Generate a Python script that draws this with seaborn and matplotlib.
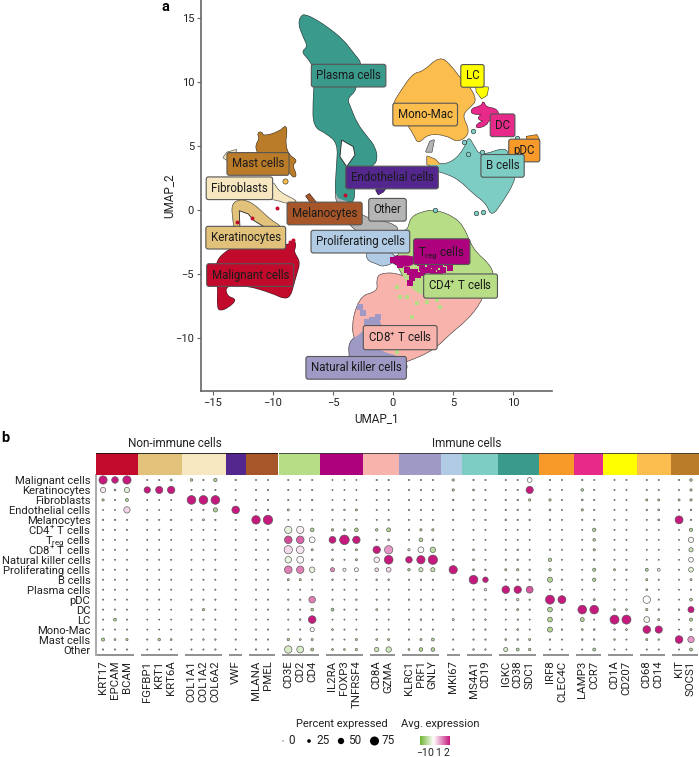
import matplotlib
matplotlib.use("Agg")
import matplotlib.pyplot as plt
import numpy as np
import pandas as pd
import seaborn as sns
from matplotlib.colors import LinearSegmentedColormap, TwoSlopeNorm
from matplotlib.patches import PathPatch
from matplotlib.path import Path

FIG_W, FIG_H = 699, 757

# cluster colours
colors = {
    "Malignant cells": "#c20a2c", "Keratinocytes": "#e2c27b", "Fibroblasts": "#f6e7c1",
    "Endothelial cells": "#54278f", "Melanocytes": "#a65628", "CD4 T cells": "#b7dd87",
    "Treg cells": "#ae017e", "CD8 T cells": "#f7b3ac", "Natural killer cells": "#9f9ac5",
    "Proliferating cells": "#b0cbe3", "B cells": "#7ecdc4", "Plasma cells": "#3a9a8c",
    "pDC": "#f79a2a", "DC": "#e7298a", "LC": "#ffff00", "Mono-Mac": "#fbbd4d",
    "Mast cells": "#bb7c2a", "Other": "#b5b5b5",
}

# UMAP cluster outlines (UMAP_1, UMAP_2)
other_shape = [(-4.83, 1.56), (-4.14, 1.43), (-3.86, 0.52), (-2.75, 0.26), (-2.75, -0.52), (0.03, -1.04), (0.58, -1.69),
               (-1.08, -1.82), (-2.75, -1.69), (-3.31, -1.43), (-3.86, -0.78), (-4.69, 0.52)]
plasma_shape = [(-7.89, 14.58), (-7.6, 15.25), (-7.2, 15.2), (-6.64, 14.97), (-5.53, 14.32), (-4.14, 13.28), (-3.31, 12.24),
                (-2.61, 11.46), (-3.03, 10.94), (-3.03, 9.37), (-3.86, 8.72), (-3.58, 8.07), (-3.03, 6.77), (-2.19, 5.73),
                (-1.5, 4.95), (-1.3, 3.91), (-1.78, 3.39), (-2.75, 3.0), (-3.3, 2.6), (-3.17, 0.52), (-4.14, 0.78),
                (-4.83, 1.04), (-4.69, 3.39), (-4.56, 5.21), (-5.53, 6.0), (-6.64, 6.51), (-6.64, 8.59), (-6.5, 10.42),
                (-6.64, 11.2), (-7.06, 11.85), (-7.61, 12.37), (-7.06, 12.76), (-7.47, 13.54)]
plasma_hole = [(-4.28, 5.47), (-3.31, 4.95), (-3.17, 4.3), (-3.86, 3.39), (-4.42, 4.17)]
mast_shape = [(-11.31, 5.99), (-10.94, 6.12), (-10.81, 5.73), (-9.42, 6.12), (-8.92, 6.64), (-8.86, 5.99), (-9.0, 5.21),
              (-8.72, 4.30), (-7.97, 3.86), (-8.44, 3.52), (-8.03, 2.73), (-8.31, 2.53), (-8.72, 3.12), (-9.42, 2.86),
              (-9.83, 3.12), (-11.08, 4.17), (-11.5, 4.95), (-11.08, 5.6)]
fibro_shape = [(-9.97, 2.21), (-9.56, 1.43), (-8.17, 0.78), (-8.08, 0.65), (-8.86, 0.52), (-9.56, 0.78), (-10.5, 0.9), (-10.5, 2.0)]
fibro_bit = [(-14.14, 4.1), (-13.8, 4.5), (-13.03, 4.7), (-13.3, 4.3), (-13.8, 3.9)]
kerat_shape = [(-13.44, 0.39), (-12.89, 0.78), (-12.19, 0.73), (-11.36, 0.26), (-10.25, -0.78), (-9.28, -1.3),
               (-9.28, -1.95), (-13.17, -1.95), (-13.31, -0.78)]
kerat_hole = [(-12.81, -0.05), (-12.06, -0.31), (-11.58, -0.83), (-10.67, -1.35), (-12.75, -1.51)]
malig_shape = [(-14.69, -4.04), (-14.14, -3.39), (-13.17, -2.86), (-8.86, -2.86), (-8.22, -2.34), (-8.11, -2.86),
               (-8.31, -3.26), (-7.75, -4.04), (-8.03, -4.95), (-8.31, -5.86), (-8.58, -6.77), (-9.14, -6.9), (-9.97, -6.51),
               (-12.19, -5.86), (-14.0, -5.86), (-13.86, -6.77), (-13.03, -6.98), (-13.72, -7.6), (-14.42, -7.86),
               (-14.64, -7.55), (-14.56, -5.86), (-14.83, -4.95)]
melano_shape = [(-7.25, 1.09), (-6.97, 1.25), (-6.31, 0.47), (-6.64, 0.31)]
prolif_shape = [(-2.19, -3.0), (-0.39, -3.13), (0.44, -3.91), (-0.81, -4.43), (-1.36, -4.17), (-2.19, -3.91)]
prolif_top = [(0.72, -1.83), (1.42, -1.3), (1.83, -2.6), (1.0, -2.87)]
nk_shape = [(-3.72, -10.29), (-2.61, -9.64), (-1.64, -8.59), (-1.08, -8.59), (-0.8, -9.6), (-1.64, -10.9), (1.14, -11.59),
            (1.14, -12.9), (-3.58, -12.9), (-3.58, -11.72)]
cd8_shape = [(-1.08, -4.95), (0.58, -4.95), (3.92, -6.51), (7.53, -6.51), (7.25, -7.29), (6.14, -8.6), (4.75, -9.64),
             (3.36, -10.94), (1.14, -11.85), (0.03, -12.11), (-2.0, -11.0), (-3.58, -9.9), (-2.89, -6.77), (-1.22, -6.38),
             (-1.36, -5.47)]
cd4_shape = [(1.28, -1.3), (1.56, -0.52), (2.53, -0.13), (3.5, 0.0), (5.03, -0.52), (5.86, -1.3), (6.42, -2.6), (6.97, -3.39),
             (7.94, -4.17), (8.36, -4.95), (8.36, -5.73), (7.53, -6.51), (4.75, -6.51), (2.53, -6.77), (1.42, -5.99),
             (0.86, -5.21), (0.17, -3.91), (0.86, -2.87)]
treg_shape = [(-0.25, -3.78), (0.44, -3.52), (2.11, -3.65), (1.83, -4.17), (1.14, -4.48), (0.17, -4.3)]
monomac_shape = [(0.03, 8.33), (0.72, 9.37), (1.69, 10.67), (2.53, 10.8), (3.92, 12.03), (4.89, 11.2), (5.58, 10.28), (6.28, 9.76),
                 (6.97, 8.59), (6.42, 8.07), (5.72, 7.42), (6.28, 6.38), (6.14, 5.73), (5.31, 5.34), (4.47, 5.86), (2.94, 5.99),
                 (2.11, 5.21), (1.83, 5.73), (1.28, 6.64), (0.17, 8.07)]
bcell_shape = [(2.81, 3.77), (3.92, 3.51), (5.03, 3.77), (6.0, 4.82), (6.28, 5.73), (6.69, 5.08), (7.25, 4.16), (9.47, 4.95),
               (9.61, 3.9), (10.17, 2.86), (10.03, 2.08), (9.19, 0.78), (8.22, -0.52), (7.81, 0.52), (6.69, 1.3), (5.58, 2.34),
               (4.47, 2.86), (3.36, 3.12)]
monomac_bit = [(2.85, 4.2), (3.5, 3.95), (3.92, 3.55), (2.85, 3.55)]
other_bit = [(2.75, 4.55), (3.08, 5.34), (3.42, 5.47), (3.22, 4.55)]
dc_shape = [(6.55, 7.94), (7.39, 8.12), (7.53, 8.54), (7.72, 8.02), (8.64, 7.91), (8.86, 7.29), (7.94, 7.03), (7.81, 6.64),
            (6.97, 6.38), (6.97, 6.72), (7.67, 6.98), (7.19, 7.03), (7.11, 7.29), (7.53, 7.5), (6.55, 7.5)]
lc_shape = [(6.92, 9.63), (7.94, 9.58), (7.81, 8.98), (7.39, 8.72), (6.97, 9.24)]
pdc_shape = [(11.14, 5.73), (11.97, 5.86), (12.19, 5.47), (11.97, 5.2), (11.14, 5.33)]
endo_shape = [(-1.42, 1.56), (-0.53, 1.82), (-0.81, 1.43), (-1.22, 1.22)]

# scattered cells that sit outside or across the main shapes
treg_x = [2.25, 2.67, 3.08, 3.5, 3.92, 4.47, 4.75, 4.19, 3.36, 2.94, 2.39, 1.83, 1.42, 1.14, 1.56, 2.11, 1.42, 3.64, 3.92, 2.53, 0.03, 0.58, 1.0]
treg_y = [-4.17, -4.04, -4.3, -4.43, -4.3, -4.17, -4.56, -4.69, -4.82, -4.69, -4.56, -4.82, -4.82, -4.69, -5.34, -5.08, -5.73, -5.08, -4.95, -4.95, -3.91, -4.3, -4.17]
cd4_x = [0.31, 1.14, 1.97, 2.81, 3.64, 4.75, 3.92, 0.58, 1.55, 0.31]
cd4_y = [-5.99, -6.77, -7.29, -7.16, -7.03, -6.77, -7.55, -6.77, -8.34, -11.07]
nk_x = [-2.75, -2.47, -2.19, -1.78, -1.22, -1.36, -1.78]
nk_y = [-7.55, -8.07, -8.72, -8.59, -8.33, -8.85, -9.11]
bit_x = [10.3, 7.39, 6.64, 5.92, 6.28, 6.92, 7.53, 3.5]
bit_y = [5.6, 4.55, 6.2, 5.34, 4.37, -0.21, -0.13, 0.0]
red_x = [-11.78, -13.03, -12.47, -8.58, -8.31, -9.64, -4.0]
red_y = [-0.65, -0.91, -1.51, -2.47, -2.34, 0.13, 1.17]
mast_bit_x = [-9.0]
mast_bit_y = [2.27]

# label text, cluster for the box colour, label centre
label_text = ["Plasma cells", "Mast cells", "Fibroblasts", "Keratinocytes", "Malignant cells", "Melanocytes", "Other",
              "Proliferating cells", r"T$_{\mathregular{reg}}$ cells", r"CD4$^{+}$ T cells", r"CD8$^{+}$ T cells",
              "Natural killer cells", "Mono-Mac", "LC", "DC", "pDC", "B cells", "Endothelial cells"]
label_cell = ["Plasma cells", "Mast cells", "Fibroblasts", "Keratinocytes", "Malignant cells", "Melanocytes", "Other",
              "Proliferating cells", "Treg cells", "CD4 T cells", "CD8 T cells",
              "Natural killer cells", "Mono-Mac", "LC", "DC", "pDC", "B cells", "Endothelial cells"]
label_x = [-3.7, -11.25, -12.8, -12.27, -11.9, -5.7, -0.46, -2.72, 4.06, 5.63, 0.6, -3.07, 2.68, 6.62, 9.13, 10.94, 9.13, -0.08]
label_y = [10.5, 3.6, 1.7, -2.16, -5.08, -0.27, 0.02, -2.47, -3.25, -5.94, -9.97, -12.33, 7.46, 10.48, 6.62, 4.65, 3.45, 2.54]

# dot plot
row_labels = ["Malignant cells", "Keratinocytes", "Fibroblasts", "Endothelial cells", "Melanocytes", r"CD4$^{+}$ T cells",
              r"T$_{\mathregular{reg}}$ cells", r"CD8$^{+}$ T cells", "Natural killer cells", "Proliferating cells", "B cells",
              "Plasma cells", "pDC", "DC", "LC", "Mono-Mac", "Mast cells", "Other"]
gene_groups = [["KRT17", "EPCAM", "BCAM"], ["FGFBP1", "KRT1", "KRT6A"], ["COL1A1", "COL1A2", "COL6A2"], ["VWF"], ["MLANA", "PMEL"],
               ["CD3E", "CD2", "CD4"], ["IL2RA", "FOXP3", "TNFRSF4"], ["CD8A", "GZMA"], ["KLRC1", "PRF1", "GNLY"], ["MKI67"],
               ["MS4A1", "CD19"], ["IGKC", "CD38", "SDC1"], ["IRF8", "CLEC4C"], ["LAMP3", "CCR7"], ["CD1A", "CD207"],
               ["CD68", "CD14"], ["KIT", "SOCS1"]]
percent = [
    [68, 52, 68, 3, 3, 10, 15, 3, 22, 4, 2, 2, 3, 3, 3, 1, 1, 1, 4, 4, 3, 3, 3, 12, 4, 3, 3, 3, 35, 4, 2, 4, 2, 2, 2, 3, 2, 3, 15],
    [40, 8, 40, 50, 58, 60, 3, 3, 3, 2, 3, 3, 3, 3, 3, 1, 1, 1, 3, 3, 3, 3, 3, 12, 8, 3, 2, 3, 58, 2, 2, 15, 3, 2, 2, 2, 2, 2, 12],
    [12, 3, 18, 2, 2, 2, 72, 72, 72, 2, 3, 4, 3, 2, 5, 1, 1, 1, 2, 4, 3, 3, 3, 6, 4, 3, 4, 5, 12, 12, 3, 8, 4, 2, 2, 10, 10, 10, 12],
    [1, 1, 50, 1, 1, 1, 1, 3, 30, 62, 1, 5, 10, 3, 3, 5, 5, 10, 2, 2, 3, 3, 3, 5, 6, 3, 4, 5, 5, 8, 2, 12, 3, 2, 2, 5, 8, 4, 6],
    [4, 4, 3, 3, 3, 4, 4, 8, 4, 3, 70, 78, 1, 1, 1, 1, 1, 3, 2, 4, 3, 3, 3, 3, 2, 4, 6, 4, 5, 6, 2, 3, 3, 2, 2, 2, 8, 65, 4],
    [3, 3, 3, 2, 3, 3, 2, 2, 2, 2, 2, 2, 58, 58, 25, 14, 10, 25, 14, 28, 5, 12, 12, 2, 3, 2, 2, 2, 1, 2, 2, 2, 22, 2, 2, 1, 1, 1, 22],
    [2, 2, 2, 2, 2, 2, 2, 2, 2, 2, 2, 2, 62, 62, 45, 55, 80, 60, 4, 8, 2, 25, 8, 2, 2, 2, 2, 2, 2, 2, 2, 2, 15, 2, 2, 1, 1, 1, 40],
    [2, 2, 2, 2, 2, 2, 2, 2, 2, 2, 2, 2, 68, 62, 10, 6, 2, 10, 60, 68, 12, 45, 42, 5, 8, 2, 3, 6, 2, 3, 2, 2, 12, 2, 2, 1, 1, 1, 30],
    [2, 2, 2, 2, 2, 2, 2, 2, 2, 2, 2, 2, 52, 55, 6, 8, 2, 10, 42, 72, 52, 68, 78, 2, 8, 2, 3, 6, 2, 22, 2, 2, 5, 2, 2, 1, 1, 1, 35],
    [3, 2, 3, 2, 2, 2, 2, 2, 3, 2, 2, 2, 62, 60, 42, 30, 20, 28, 25, 35, 14, 30, 30, 68, 8, 5, 10, 12, 5, 14, 2, 2, 20, 10, 5, 18, 18, 2, 35],
    [2, 2, 2, 2, 2, 2, 2, 3, 2, 2, 2, 2, 10, 10, 3, 6, 2, 3, 6, 6, 3, 5, 4, 2, 72, 42, 4, 6, 6, 38, 4, 2, 22, 2, 2, 10, 3, 1, 10],
    [2, 2, 2, 2, 2, 2, 2, 2, 2, 2, 2, 2, 2, 2, 2, 2, 2, 2, 2, 2, 2, 2, 2, 1, 3, 14, 62, 60, 55, 1, 1, 1, 1, 1, 1, 8, 1, 1, 2],
    [2, 2, 2, 2, 2, 2, 3, 3, 3, 2, 2, 2, 4, 4, 52, 3, 1, 5, 4, 4, 4, 4, 4, 1, 3, 3, 3, 14, 4, 75, 65, 1, 10, 2, 1, 60, 2, 1, 16],
    [2, 2, 2, 1, 1, 1, 4, 12, 3, 3, 3, 3, 4, 3, 16, 18, 3, 4, 8, 3, 2, 4, 4, 4, 5, 5, 3, 10, 4, 35, 4, 72, 72, 8, 8, 12, 6, 5, 48],
    [2, 18, 2, 1, 1, 1, 3, 3, 2, 2, 1, 1, 2, 6, 62, 1, 1, 1, 2, 2, 2, 6, 2, 10, 3, 5, 1, 4, 1, 35, 2, 28, 2, 75, 75, 45, 10, 1, 20],
    [2, 2, 2, 1, 1, 1, 3, 3, 3, 2, 2, 3, 2, 2, 30, 8, 2, 2, 3, 2, 3, 3, 3, 2, 4, 4, 3, 8, 2, 38, 5, 8, 8, 6, 8, 62, 58, 1, 10],
    [20, 8, 12, 3, 15, 8, 3, 5, 5, 3, 4, 3, 14, 8, 10, 3, 2, 10, 8, 10, 4, 10, 18, 3, 4, 4, 8, 6, 10, 5, 3, 6, 5, 6, 2, 10, 5, 62, 50],
    [3, 3, 3, 2, 2, 2, 3, 3, 4, 2, 4, 4, 60, 55, 18, 8, 8, 12, 32, 42, 8, 25, 25, 3, 6, 5, 30, 18, 14, 3, 2, 2, 18, 2, 2, 3, 3, 2, 18],
]
# average expression of most small dots, then the dots that differ from it
expr_default = -0.6
expr_values = {
    "Malignant cells": {"KRT17": 2, "EPCAM": 2, "BCAM": 2, "SDC1": 0.15},
    "Keratinocytes": {"KRT17": 0.4, "BCAM": -0.1, "FGFBP1": 2, "KRT1": 2, "KRT6A": 2, "SDC1": 2},
    "Fibroblasts": {"COL1A1": 2, "COL1A2": 2, "COL6A2": 2},
    "Endothelial cells": {"BCAM": 0.55, "VWF": 2},
    "Melanocytes": {"MLANA": 2, "PMEL": 2, "KIT": 2},
    r"CD4$^{+}$ T cells": {"CD3E": -0.05, "CD2": 0.3},
    r"T$_{\mathregular{reg}}$ cells": {"CD3E": 1.6, "CD2": 1.4, "CD4": 0.25, "IL2RA": 2, "FOXP3": 2, "TNFRSF4": 2, "PRF1": -0.5, "SOCS1": 0.1},
    r"CD8$^{+}$ T cells": {"CD3E": 0.5, "CD2": 0.4, "CD8A": 2, "GZMA": 1.0, "KLRC1": -0.3, "PRF1": 0.15, "GNLY": -0.5, "SOCS1": -0.3},
    "Natural killer cells": {"CD3E": 0.0, "CD2": 0.25, "CD8A": 0.35, "GZMA": 2, "KLRC1": 2, "PRF1": 2, "GNLY": 2, "SOCS1": 0.1},
    "Proliferating cells": {"CD3E": 1.2, "CD2": 1.2, "CD4": -0.05, "IL2RA": 1.1, "FOXP3": 0.1, "TNFRSF4": 0.25, "CD8A": 0.5, "GZMA": 0.5,
                            "PRF1": -0.3, "GNLY": -0.4, "MKI67": 2, "CD14": 0.0, "SOCS1": -0.1},
    "B cells": {"MS4A1": 2, "CD19": 2},
    "Plasma cells": {"CD19": 0.0, "IGKC": 2, "CD38": 2, "SDC1": 1.5},
    "pDC": {"CD4": 1.2, "CD38": -0.2, "IRF8": 2, "CLEC4C": 2, "CD68": 0.2},
    "DC": {"LAMP3": 2, "CCR7": 2, "SOCS1": 2},
    "LC": {"CD4": 2, "CD1A": 2, "CD207": 2, "CD68": 0.05, "MKI67": -0.2},
    "Mono-Mac": {"CD4": 0.15, "CD68": 2, "CD14": 2},
    "Mast cells": {"KIT": 2, "SOCS1": 1.0},
    "Other": {"CD3E": -0.2, "CD2": -0.2, "CD8A": -0.3, "GZMA": -0.3, "IGKC": -0.2},
}

# header strip: cell type and right edge on the gene axis
header_cells = ["Malignant cells", "Keratinocytes", "Fibroblasts", "Endothelial cells", "Melanocytes", None, "CD4 T cells", "Treg cells",
                "CD8 T cells", "Natural killer cells", "Proliferating cells", "B cells", "Plasma cells", "pDC", "DC", "LC", "Mono-Mac", "Mast cells"]
header_edges = [-0.59, 2.89, 6.57, 10.29, 11.97, 14.6, 14.7, 18.16, 21.78, 24.74, 28.28, 30.04, 33.03, 36.48, 39.41, 41.84, 44.69, 47.53, 49.87]

legend_percent = [0, 25, 50, 75]
cbar_ticks = [-1, 0, 1, 2]


def add_axes_px(left, top, right, bottom):
    return fig.add_axes([left / FIG_W, 1 - bottom / FIG_H, (right - left) / FIG_W, (bottom - top) / FIG_H])


def text_px(x, y, s, **kwargs):
    fig.text(x / FIG_W, 1 - y / FIG_H, s, **kwargs)


def dot_area(pct):
    # radius grows linearly with percent, Seurat style; area in points^2
    diameter_px = 1 + 0.107 * np.asarray(pct, dtype=float)
    return (diameter_px * 0.72) ** 2


def draw_shape(axis, shape, **kwargs):
    # outline vertices act as curve controls so cluster edges come out rounded
    pts = np.asarray(shape, dtype=float)
    if len(pts) < 6:
        axis.fill(pts[:, 0], pts[:, 1], **kwargs)
        return
    mids = (pts + np.roll(pts, -1, axis=0)) / 2
    verts = [mids[-1]]
    codes = [Path.MOVETO]
    for p, m in zip(pts, mids):
        verts += [p, m]
        codes += [Path.CURVE3, Path.CURVE3]
    axis.add_patch(PathPatch(Path(verts, codes), **kwargs))


sns.set_theme(style="white")
plt.rcParams["font.family"] = ["Roboto", "DejaVu Sans"]
plt.rcParams.update(
    {
        "mathtext.fontset": "custom",
        "mathtext.rm": "Roboto",
        "mathtext.it": "Roboto:italic",
        "mathtext.bf": "Roboto:bold",
        "axes.edgecolor": "#666666",
        "text.color": "#222222",
        "xtick.color": "#222222",
        "ytick.color": "#222222",
        "axes.labelcolor": "#222222",
    }
)

fig = plt.figure(figsize=(FIG_W / 100, FIG_H / 100), dpi=100)

# Panel a: UMAP
ax = add_axes_px(201, 0, 552, 391)
shapes = [
    (other_shape, "Other"), (other_bit, "Other"), (plasma_shape, "Plasma cells"), (mast_shape, "Mast cells"),
    (fibro_shape, "Fibroblasts"), (fibro_bit, "Fibroblasts"), (kerat_shape, "Keratinocytes"), (malig_shape, "Malignant cells"),
    (melano_shape, "Melanocytes"), (prolif_shape, "Proliferating cells"), (prolif_top, "Proliferating cells"),
    (cd8_shape, "CD8 T cells"), (nk_shape, "Natural killer cells"), (cd4_shape, "CD4 T cells"), (treg_shape, "Treg cells"),
    (monomac_shape, "Mono-Mac"), (bcell_shape, "B cells"), (monomac_bit, "Mono-Mac"), (dc_shape, "DC"), (lc_shape, "LC"),
    (pdc_shape, "pDC"), (endo_shape, "Endothelial cells"),
]
# black pass first so only the outer hull of touching clusters keeps an outline
for shape, cell in shapes:
    draw_shape(ax, shape, facecolor="none", edgecolor="#222222", linewidth=1.0, zorder=1)
for shape, cell in shapes:
    draw_shape(ax, shape, facecolor=colors[cell], edgecolor=colors[cell], linewidth=0.3, zorder=2)
for hole in [plasma_hole, kerat_hole]:
    draw_shape(ax, hole, facecolor="white", edgecolor="#222222", linewidth=0.6, zorder=3)

sns.scatterplot(x=cd4_x, y=cd4_y, color=colors["CD4 T cells"], s=9, marker="s", linewidth=0, ax=ax, zorder=3)
sns.scatterplot(x=nk_x, y=nk_y, color=colors["Natural killer cells"], s=16, marker="s", linewidth=0, ax=ax, zorder=3)
sns.scatterplot(x=treg_x, y=treg_y, color=colors["Treg cells"], s=13, marker="s", linewidth=0, ax=ax, zorder=4)
sns.scatterplot(x=bit_x, y=bit_y, color=colors["B cells"], s=11, edgecolor="#222222", linewidth=0.4, ax=ax, zorder=4)
sns.scatterplot(x=red_x, y=red_y, color=colors["Malignant cells"], s=8, linewidth=0, ax=ax, zorder=4)
sns.scatterplot(x=mast_bit_x, y=mast_bit_y, color=colors["Mono-Mac"], s=14, edgecolor="#222222", linewidth=0.4, ax=ax, zorder=4)

for text, cell, lx, ly in zip(label_text, label_cell, label_x, label_y):
    ax.text(lx, ly, text, ha="center", va="center", fontsize=8.3, color="#1a1a1a", zorder=6,
            bbox={"boxstyle": "round,pad=0.42,rounding_size=0.2", "facecolor": colors[cell], "edgecolor": "#555555", "linewidth": 0.8})

ax.set_xlim(-16, 13.25)
ax.set_ylim(-14.14, 16.41)
ax.set_xticks([-15, -10, -5, 0, 5, 10])
ax.set_yticks([-10, -5, 0, 5, 10, 15])
ax.set_xticklabels(["\u221215", "\u221210", "\u22125", "0", "5", "10"])
ax.set_yticklabels(["\u221210", "\u22125", "0", "5", "10", "15"])
ax.tick_params(axis="both", length=3, width=0.8, color="#666666", labelsize=8, pad=2, bottom=True, left=True)
ax.set_xlabel("UMAP_1", fontsize=8.5, labelpad=3)
ax.set_ylabel("UMAP_2", fontsize=8.5, labelpad=0)
sns.despine(ax=ax)
for side in ["left", "bottom"]:
    ax.spines[side].set_linewidth(1.2)

# Panel b: dot plot
genes = [g for group in gene_groups for g in group]
gene_pos = {}
group_spans = []
slot = 0
for g_idx, group in enumerate(gene_groups):
    start = slot + 0.7 * g_idx
    for g in group:
        gene_pos[g] = slot + 0.7 * g_idx
        slot += 1
    group_spans.append((start, gene_pos[group[-1]]))

pct_table = pd.DataFrame(percent, index=row_labels, columns=genes)
records = pct_table.stack().reset_index()
records.columns = ["cell", "gene", "pct"]
records["avg"] = [expr_values[c].get(g, expr_default) for c, g in zip(records["cell"], records["gene"])]
records["row"] = records["cell"].map({c: i for i, c in enumerate(row_labels)})
records["pos"] = records["gene"].map(gene_pos)
records["area"] = dot_area(records["pct"])

expr_cmap = LinearSegmentedColormap.from_list("expr", ["#6fb536", "#ffffff", "#c6197e"])
expr_norm = TwoSlopeNorm(vmin=-1.3, vcenter=0.2, vmax=2.0)

dot_ax = add_axes_px(96, 475, 699, 655)
sns.scatterplot(
    data=records, x="pos", y="row", hue="avg", size="area", palette=expr_cmap, hue_norm=expr_norm,
    sizes=(records["area"].min(), records["area"].max()), size_norm=(records["area"].min(), records["area"].max()),
    edgecolor="#555555", linewidth=0.45, legend=False, ax=dot_ax, clip_on=False,
)
dot_ax.set_xlim(header_edges[0], header_edges[-1])
dot_ax.set_ylim(17.55, -0.5)
dot_ax.set_yticks(range(len(row_labels)))
dot_ax.set_yticklabels(row_labels, fontsize=8.1)
dot_ax.set_xticks([gene_pos[g] for g in genes])
dot_ax.set_xticklabels(genes, rotation=90, fontsize=8.2)
dot_ax.tick_params(axis="both", length=0)
dot_ax.tick_params(axis="y", pad=4)
dot_ax.tick_params(axis="x", pad=4)
dot_ax.set_xlabel("")
dot_ax.set_ylabel("")
sns.despine(ax=dot_ax, bottom=True)
dot_ax.spines["left"].set_linewidth(1.4)
dot_ax.spines["left"].set_color("#aaaaaa")
for start, end in group_spans:
    dot_ax.hlines(17.55, start - 0.55, end + 0.55, color="#888888", linewidth=1.3, clip_on=False)

# header strip above the dots
head_ax = add_axes_px(96, 453, 699, 475)
for i, cell in enumerate(header_cells):
    if cell is not None:
        head_ax.bar(header_edges[i], 1, width=header_edges[i + 1] - header_edges[i], align="edge", color=colors[cell], linewidth=0)
head_ax.hlines(1, header_edges[0], header_edges[5], color="#111111", linewidth=1.2)
head_ax.hlines(1, header_edges[6], header_edges[-1], color="#333333", linewidth=1.2)
head_ax.set_xlim(header_edges[0], header_edges[-1])
head_ax.set_ylim(0, 1)
head_ax.axis("off")

text_px(175, 443, "Non-immune cells", ha="center", va="center", fontsize=8.5)
text_px(467, 443, "Immune cells", ha="center", va="center", fontsize=8.5)

# Legends
text_px(342, 724, "Percent expressed", ha="center", va="center", fontsize=8)
text_px(440, 724, "Avg. expression", ha="center", va="center", fontsize=8)

leg_ax = add_axes_px(275, 732, 400, 750)
leg_slots = [283, 309, 341, 374.5]
sns.scatterplot(x=leg_slots, y=[0] * 4, size=dot_area(legend_percent), sizes=(0.6, 42), size_norm=(0.6, 42),
                color="black", linewidth=0, legend=False, ax=leg_ax)
leg_ax.set_xlim(275, 400)
leg_ax.set_ylim(-1, 1)
leg_ax.axis("off")
for value, px in zip(legend_percent, leg_slots):
    leg_ax.text(px + (9 if value == 0 else 14), 0, str(value), ha="center", va="center", fontsize=8.5)

cbar_ax = add_axes_px(420, 736, 449, 745)
gradient = np.linspace(-1.3, 2.0, 100).reshape(1, -1)
cbar_ax.imshow(gradient, cmap=expr_cmap, norm=expr_norm, aspect="auto", extent=[-1.3, 2.3, 0, 1])
cbar_ax.set_yticks([])
cbar_ax.set_xticks(cbar_ticks)
cbar_ax.set_xticklabels(["\u22121", "0", "1", "2"], fontsize=7.5)
cbar_ax.tick_params(axis="x", length=0, pad=2)
sns.despine(ax=cbar_ax, left=True, bottom=True)

text_px(165, 7, "a", fontsize=10.5, fontweight="bold", color="black", ha="center", va="center")
text_px(5, 438, "b", fontsize=10.5, fontweight="bold", color="black", ha="center", va="center")

fig.savefig("out.png", dpi=100)
